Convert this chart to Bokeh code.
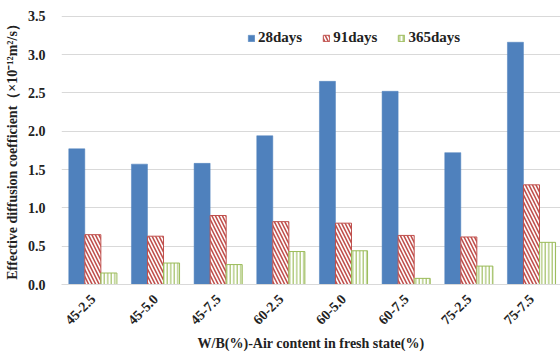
from bokeh.plotting import figure
from bokeh.models import Range1d, FixedTicker, Legend, LegendItem
from bokeh.embed import file_html
from bokeh.resources import INLINE
import math

# Mix labels: W/B (%) - air content in fresh state (%)
mixes = ["45-2.5", "45-5.0", "45-7.5", "60-2.5", "60-5.0", "60-7.5", "75-2.5", "75-7.5"]

# Effective diffusion coefficient (x10^-12 m^2/s) by curing age
d28 = [1.77, 1.57, 1.58, 1.94, 2.65, 2.52, 1.72, 3.16]
d91 = [0.65, 0.63, 0.90, 0.82, 0.80, 0.64, 0.62, 1.30]
d365 = [0.15, 0.28, 0.26, 0.43, 0.44, 0.08, 0.24, 0.55]

y_ticks = [0.0, 0.5, 1.0, 1.5, 2.0, 2.5, 3.0, 3.5]

FONT = "Liberation Serif"
BLUE = "#4F81BD"
RED = "#C0504D"
GREEN = "#9BBB59"

idx = list(range(len(mixes)))
bw = 0.256

p = figure(
    width=560, height=356,
    x_range=Range1d(-0.5, 7.463), y_range=Range1d(0, 3.548),
    output_backend="svg", toolbar_location=None,
    min_border_left=61, min_border_right=0, min_border_top=12, min_border_bottom=72,
)
p.outline_line_color = None
p.background_fill_color = "white"
p.border_fill_color = "white"

r28 = p.vbar(x=[i - bw for i in idx], top=d28, width=bw,
             fill_color=BLUE, line_color=BLUE, line_width=0.5)
r91 = p.vbar(x=idx, top=d91, width=bw,
             fill_color="white", line_color=RED, line_width=1,
             hatch_pattern="left_diagonal_line", hatch_color=RED,
             hatch_scale=7, hatch_weight=1.6)
r365 = p.vbar(x=[i + bw for i in idx], top=d365, width=bw,
              fill_color="white", line_color=GREEN, line_width=1,
              hatch_pattern="vertical_line", hatch_color=GREEN,
              hatch_scale=3.5, hatch_weight=1.1)

# axes
p.xaxis.ticker = FixedTicker(ticks=idx)
p.xaxis.major_label_overrides = {i: m for i, m in zip(idx, mixes)}
p.xaxis.major_label_orientation = math.pi / 4
p.yaxis.ticker = FixedTicker(ticks=y_ticks)
p.yaxis.major_label_overrides = {t: f"{t:.1f}" for t in y_ticks}

for ax in (p.xaxis[0], p.yaxis[0]):
    ax.major_tick_line_color = None
    ax.minor_tick_line_color = None
    ax.major_label_text_font = FONT
    ax.major_label_text_font_style = "bold"
    ax.major_label_text_color = "#222222"
    ax.axis_label_text_font = FONT
    ax.axis_label_text_font_style = "bold"
    ax.axis_label_text_color = "#222222"

p.xaxis.axis_line_color = "#d9d9d9"
p.yaxis.axis_line_color = None
p.xaxis.major_label_text_font_size = "14px"
p.yaxis.major_label_text_font_size = "14px"
p.xaxis.major_label_standoff = 6
p.yaxis.major_label_standoff = 10

p.xaxis.axis_label = "W/B(%)-Air content in fresh state(%)"
p.xaxis.axis_label_text_font_size = "14px"
p.xaxis.axis_label_standoff = 4
p.yaxis.axis_label = "Effective diffusion coefficient（×10⁻¹²m²/s）"
p.yaxis.axis_label_text_font_size = "14px"
p.yaxis.axis_label_standoff = 5

p.xgrid.grid_line_color = None
p.ygrid.grid_line_color = "#d9d9d9"
p.ygrid.grid_line_width = 1

legend = Legend(
    items=[LegendItem(label="28days", renderers=[r28]),
           LegendItem(label="91days", renderers=[r91]),
           LegendItem(label="365days", renderers=[r365])],
    orientation="horizontal",
    location=(186, 238),
    background_fill_alpha=0, border_line_color=None,
    glyph_width=8, glyph_height=8, label_standoff=3, spacing=20,
    padding=0, margin=0,
    label_text_font=FONT, label_text_font_style="bold",
    label_text_font_size="15px", label_text_color="#222222",
)
p.add_layout(legend, "center")

open("out.html", "w").write(file_html(p, INLINE))
